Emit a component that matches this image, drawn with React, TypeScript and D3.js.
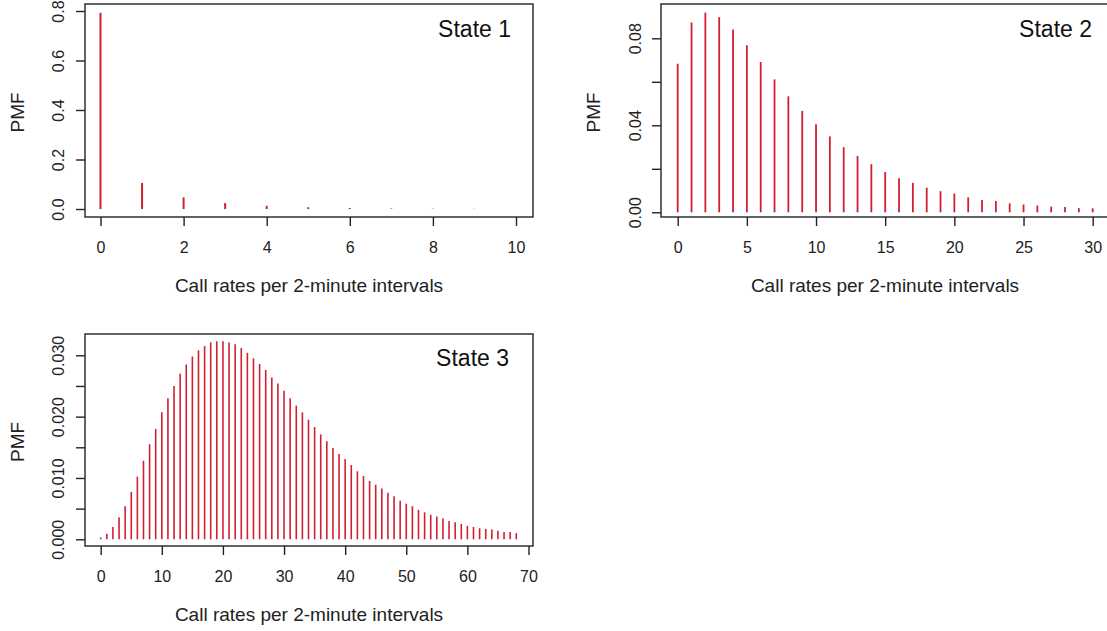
import { useEffect, useRef } from "react";
import * as d3 from "d3";

// PMF values, index = call count
const state1Pmf = [0.793, 0.105, 0.047, 0.024, 0.013, 0.007, 0.004, 0.002, 0.0013, 0.0008, 0.0005];

const state2Pmf = [
  0.0683, 0.0873, 0.0918, 0.0897, 0.0841, 0.0768, 0.0691, 0.0611, 0.0533, 0.0466,
  0.0405, 0.0349, 0.0299, 0.0259, 0.0221, 0.0185, 0.0156, 0.0135, 0.0113, 0.0097,
  0.0086, 0.0069, 0.0057, 0.0052, 0.0041, 0.0036, 0.0031, 0.0026, 0.0024, 0.0019,
  0.0018,
];

const state3Pmf = [
  0.0003, 0.0009, 0.002, 0.0036, 0.0054, 0.0077, 0.0102, 0.0128, 0.0155, 0.018,
  0.0207, 0.023, 0.025, 0.027, 0.0285, 0.0298, 0.0308, 0.0315, 0.0321, 0.0323,
  0.0323, 0.0321, 0.0318, 0.0312, 0.0304, 0.0295, 0.0286, 0.0276, 0.0264, 0.0254,
  0.0242, 0.023, 0.0218, 0.0207, 0.0195, 0.0183, 0.0171, 0.016, 0.0149, 0.0139,
  0.0131, 0.0121, 0.0111, 0.0103, 0.0095, 0.0089, 0.0083, 0.0076, 0.007, 0.0063,
  0.0058, 0.0054, 0.0048, 0.0044, 0.004, 0.0037, 0.0034, 0.003, 0.0028, 0.0025,
  0.0022, 0.002, 0.0018, 0.0017, 0.0016, 0.0014, 0.0012, 0.0012, 0.001,
];

const state1XTicks = [0, 2, 4, 6, 8, 10];
const state2XTicks = [0, 5, 10, 15, 20, 25, 30];
const state3XTicks = [0, 10, 20, 30, 40, 50, 60, 70];

const state1YTicks = [0, 0.2, 0.4, 0.6, 0.8];
const state1YLabels = ["0.0", "0.2", "0.4", "0.6", "0.8"];
const state2YTicks = [0, 0.02, 0.04, 0.06, 0.08];
const state2YLabels = ["0.00", "", "0.04", "", "0.08"];
const state3YTicks = [0, 0.005, 0.01, 0.015, 0.02, 0.025, 0.03];
const state3YLabels = ["0.000", "", "0.010", "", "0.020", "", "0.030"];

const titles = ["State 1", "State 2", "State 3"];
const xLabel = "Call rates per 2-minute intervals";
const yLabel = "PMF";

const FONT = "'Liberation Sans', Arial, sans-serif";
const INK = "#222";
const STEM = "#d0202f";

export default function App() {
  const ref = useRef(null);

  useEffect(() => {
    const svg = d3.select(ref.current);
    svg.selectAll("*").remove();

    const panels = [
      {
        values: state1Pmf, xTicks: state1XTicks, yTicks: state1YTicks, yLabels: state1YLabels,
        title: titles[0], xMax: 10, yTop: 0.8,
        xr: [100.5, 516], yr: [209, 11], box: [85, 4, 533, 217],
        yLabX: 64, titleX: 511, titleY: 37, stemW: 2,
      },
      {
        values: state2Pmf, xTicks: state2XTicks, yTicks: state2YTicks, yLabels: state2YLabels,
        title: titles[1], xMax: 30, yTop: 0.08,
        xr: [677.7, 1092.7], yr: [212.3, 38.3], box: [661, 4, 1109, 217],
        yLabX: 641, titleX: 1092, titleY: 37, stemW: 1.8,
      },
      {
        values: state3Pmf, xTicks: state3XTicks, yTicks: state3YTicks, yLabels: state3YLabels,
        title: titles[2], xMax: 70, yTop: 0.03,
        xr: [100.7, 528.5], yr: [539.3, 355.3], box: [85, 334, 533, 546],
        yLabX: 64, titleX: 509, titleY: 366, stemW: 1.6,
      },
    ];

    panels.forEach(p => {
      const x = d3.scaleLinear().domain([0, p.xMax]).range(p.xr);
      const y = d3.scaleLinear().domain([0, p.yTop]).range(p.yr);
      const [bx0, by0, bx1, by1] = p.box;
      const g = svg.append("g");

      // stems (type = "h")
      g.append("g")
        .selectAll("line")
        .data(p.values)
        .join("line")
        .attr("x1", (d, i) => x(i))
        .attr("x2", (d, i) => x(i))
        .attr("y1", y(0))
        .attr("y2", d => y(d))
        .attr("stroke", STEM)
        .attr("stroke-width", p.stemW);

      // box
      g.append("rect")
        .attr("x", bx0)
        .attr("y", by0)
        .attr("width", bx1 - bx0)
        .attr("height", by1 - by0)
        .attr("fill", "none")
        .attr("stroke", INK)
        .attr("stroke-width", 1.4);

      // x axis
      const xa = g.append("g")
        .attr("transform", `translate(0,${by1})`)
        .call(d3.axisBottom(x).tickValues(p.xTicks).tickSize(9).tickSizeOuter(0).tickPadding(13).tickFormat(d3.format("d")));
      xa.select(".domain").remove();
      xa.selectAll("line").attr("stroke", INK).attr("stroke-width", 1.4);
      xa.selectAll("text")
        .attr("fill", INK)
        .attr("font-family", FONT)
        .attr("font-size", 16)
        .attr("dy", null)
        .attr("y", 36);

      // y axis, labels parallel to axis as in R
      const ya = g.append("g")
        .attr("transform", `translate(${bx0},0)`)
        .call(d3.axisLeft(y).tickValues(p.yTicks).tickSize(9).tickSizeOuter(0).tickFormat((d, i) => p.yLabels[i]));
      ya.select(".domain").remove();
      ya.selectAll("line").attr("stroke", INK).attr("stroke-width", 1.4);
      ya.selectAll("text")
        .attr("fill", INK)
        .attr("font-family", FONT)
        .attr("font-size", 16)
        .attr("x", null)
        .attr("dy", null)
        .attr("text-anchor", "middle")
        .attr("transform", `translate(${p.yLabX - bx0},0) rotate(-90)`);

      // axis titles
      g.append("text")
        .attr("x", (bx0 + bx1) / 2)
        .attr("y", by1 + 75)
        .attr("text-anchor", "middle")
        .attr("font-family", FONT)
        .attr("font-size", 19)
        .attr("fill", INK)
        .text(xLabel);

      g.append("text")
        .attr("transform", `translate(${bx0 - 61},${(by0 + by1) / 2 + 2}) rotate(-90)`)
        .attr("text-anchor", "middle")
        .attr("font-family", FONT)
        .attr("font-size", 19)
        .attr("fill", INK)
        .text(yLabel);

      // state label
      g.append("text")
        .attr("x", p.titleX)
        .attr("y", p.titleY)
        .attr("text-anchor", "end")
        .attr("font-family", FONT)
        .attr("font-size", 23)
        .attr("fill", "#111")
        .text(p.title);
    });
  }, []);

  return (
    <svg
      ref={ref}
      width={1107}
      height={631}
      style={{ position: "absolute", left: 0, top: 0, background: "#fff" }}
    />
  );
}
